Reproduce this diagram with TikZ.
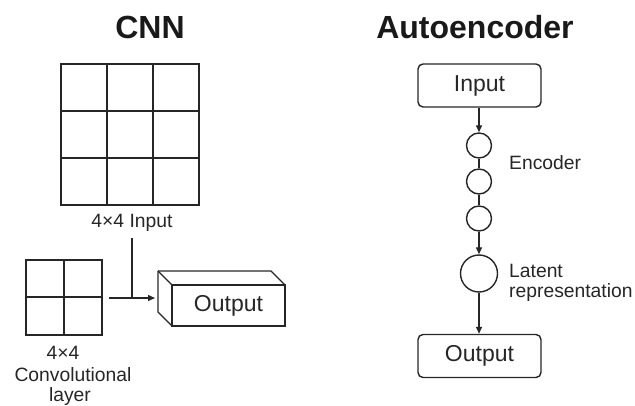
\documentclass[tikz,border=0pt]{standalone}
\usepackage{fontspec}
\setmainfont{Liberation Sans}
\usetikzlibrary{arrows.meta}
\begin{document}
\begin{tikzpicture}[x=1pt,y=-1pt,
  line/.style={draw=black!85, line width=1.4pt},
  arr/.style={line, -{Triangle[length=7pt,width=6pt]}},
  title/.style={font=\fontsize{32}{36}\selectfont\bfseries, text=black!90},
  lbl/.style={font=\fontsize{19.3}{22}\selectfont, text=black!85, inner sep=0pt},
  boxtext/.style={font=\fontsize{23}{26}\selectfont, text=black!85},
  roundbox/.style={line, rounded corners=5pt, minimum width=123pt, minimum height=43pt, inner sep=0pt},
  unit/.style={line, circle, minimum size=25pt, inner sep=0pt},
  latentunit/.style={line, circle, minimum size=37pt, inner sep=0pt}]
\useasboundingbox (0,0) rectangle (635,406);

% ---------------- CNN ----------------
\node[title] (cnntitle) at (150,27) {CNN};

% 3x3 input grid
\draw[line] (61,64) rectangle (199,205);
\draw[line] (107,64) -- (107,205) (153,64) -- (153,205);
\draw[line] (61,111) -- (199,111) (61,158) -- (199,158);
\node[lbl] (inlabel) at (132,223) {4×4 Input};

% 2x2 kernel grid
\draw[line] (26,260) rectangle (102,335);
\draw[line] (64,260) -- (64,335);
\draw[line] (26,297) -- (102,297);
\coordinate (kernel) at (109,298);
\coordinate (joint) at (132,298);

\node[lbl] (k1) at (63,353) {4×4};
\node[lbl] (k2) at (73,374.5) {Convolutional};
\node[lbl] (k3) at (70,397) {layer};

% 3D output block
\draw[line, line join=round] (158,271) -- (271,271) -- (285,285);
\draw[line, line join=round] (158,271) -- (172,285);
\draw[line, line join=round] (158,271) -- (158,312) -- (172,326);
\draw[line] (172,285) rectangle (285,326);
\node[boxtext] (cnnout) at (228.5,306) {Output};
\coordinate (outleft) at (155,298);

\draw[line] (inlabel.south |- 0,238) -- (joint);
\draw[arr] (kernel) -- (outleft);

% ---------------- Autoencoder ----------------
\node[title] (aetitle) at (475,27) {Autoencoder};

\node[roundbox, boxtext] (aein) at (479.5,85.5) {Input};
\node[unit] (e1) at (479,145.5) {};
\node[unit] (e2) at (479,181.5) {};
\node[unit] (e3) at (479,218.5) {};
\node[latentunit] (lat) at (479,273.5) {};
\node[roundbox, boxtext] (aeout) at (479.5,356) {Output};

\draw[arr] (aein.south -| e1) -- (e1.north);
\draw[line] (e1) -- (e2);
\draw[line] (e2) -- (e3);
\draw[arr] (e3) -- (lat);
\draw[arr] (lat) -- (aeout.north -| lat);

\node[lbl, anchor=west] (enc) at (509,163) {Encoder};
\node[lbl, anchor=west] (lat1) at (509,271) {Latent};
\node[lbl, anchor=west] (lat2) at (509,293) {representation};
\end{tikzpicture}
\end{document}
